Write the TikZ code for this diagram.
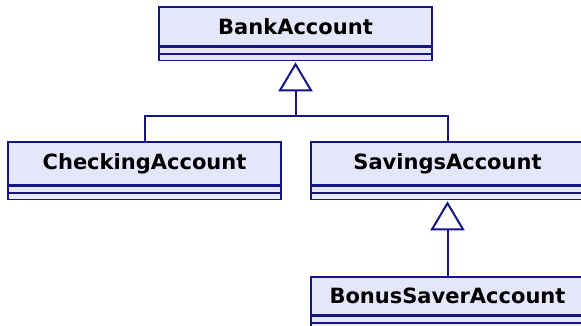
\documentclass[tikz,border=0pt]{standalone}
\usepackage{fontspec}
\setmainfont{DejaVu Sans}
\usetikzlibrary{arrows.meta}
\definecolor{umlfill}{RGB}{230,230,250}
\definecolor{umledge}{RGB}{20,20,130}
\begin{document}
\begin{tikzpicture}[x=1pt,y=-1pt,
 cls/.style={draw=umledge, fill=umlfill, line width=1.6pt, minimum width=273pt, inner sep=0pt, font=\bfseries\fontsize{21}{24}\selectfont, anchor=north},
 comp/.style={draw=umledge, fill=umlfill, line width=1.1pt, minimum width=273pt, minimum height=6pt, inner sep=0pt, anchor=north},
 link/.style={draw=umledge, line width=2pt},
 inh/.style={link, -{Triangle[open, length=29pt, width=34pt, fill=white]}, shorten >=1.5pt}]
\useasboundingbox (0,0) rectangle (581,326);
\node[cls, minimum height=39pt] (bank) at (295.5,6) {BankAccount};
\node[comp] (bank1) at (bank.south) {};
\node[comp] (bank2) at (bank1.south) {};
\node[cls, minimum height=43pt] (check) at (144.5,141) {CheckingAccount};
\node[comp] (check1) at (check.south) {};
\node[comp] (check2) at (check1.south) {};
\node[cls, minimum height=43pt] (sav) at (447.5,141) {SavingsAccount};
\node[comp] (sav1) at (sav.south) {};
\node[comp] (sav2) at (sav1.south) {};
\node[cls, minimum height=38pt] (bonus) at (447.5,276) {BonusSaverAccount};
\node[comp] (bonus1) at (bonus.south) {};
\node[comp] (bonus2) at (bonus1.south) {};
\coordinate (jn) at (bank2.south |- 0,116);
\draw[link] (check.north) |- (jn) -| (sav.north);
\draw[inh] (jn) -- (bank2.south);
\draw[inh] (bonus.north) -- (sav2.south);
\end{tikzpicture}
\end{document}
